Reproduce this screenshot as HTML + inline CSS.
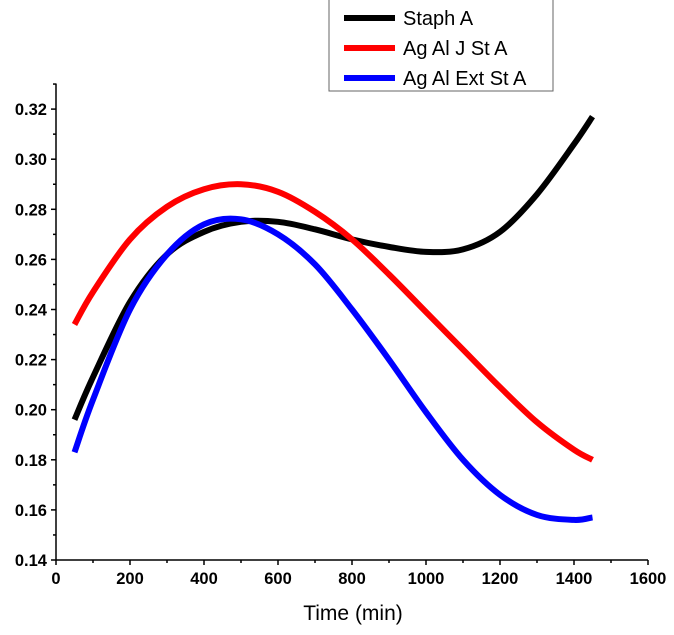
<!DOCTYPE html>
<html><head><meta charset="utf-8"><style>
html,body{margin:0;padding:0;background:#fff;}
svg{display:block;font-family:"Liberation Sans",Arial,sans-serif;}
</style></head><body>
<svg id="chart" width="674" height="635" viewBox="0 0 674 635"></svg>
<script>
const xs = [50,100,200,300,400,500,600,700,800,900,1000,1100,1200,1300,1400,1450];
const staphA = [0.196,0.213,0.243,0.262,0.271,0.275,0.275,0.272,0.268,0.265,0.263,0.264,0.271,0.286,0.306,0.317];
const agAlJ = [0.234,0.247,0.268,0.281,0.288,0.290,0.287,0.279,0.268,0.254,0.239,0.224,0.209,0.195,0.184,0.180];
const agAlExt = [0.183,0.204,0.240,0.262,0.274,0.276,0.270,0.258,0.240,0.220,0.199,0.180,0.166,0.158,0.156,0.157];
const xTicks = [0,200,400,600,800,1000,1200,1400,1600];
const yTicks = [0.14,0.16,0.18,0.20,0.22,0.24,0.26,0.28,0.30,0.32];
const seriesNames = ["Staph A","Ag Al J St A","Ag Al Ext St A"];

const NS="http://www.w3.org/2000/svg";
const svg=document.getElementById('chart');
const X0=56,X1=648,Y0=560,YT=83.5;
const xS=v=>X0+(v-0)/1600*(X1-X0);
const yS=v=>Y0-(v-0.14)/0.02*50.1;
function mk(t,a,p){const e=document.createElementNS(NS,t);for(const k in a)e.setAttribute(k,a[k]);(p||svg).appendChild(e);return e;}

const ax=mk('g',{});


mk('line',{x1:X0,y1:YT,x2:X0,y2:Y0,stroke:'#000','stroke-width':1.5},ax);
mk('line',{x1:X0,y1:Y0,x2:X1,y2:Y0,stroke:'#000','stroke-width':1.5},ax);
for(let v=0;v<=1600;v+=100){const x=xS(v);mk('line',{x1:x,y1:Y0,x2:x,y2:Y0+(v%200===0?5:3),stroke:'#000','stroke-width':1.5},ax);}
for(let i=0;i<=19;i++){const v=0.14+i*0.01;const y=yS(v);mk('line',{x1:X0,y1:y,x2:X0-(i%2===0?5:3),y2:y,stroke:'#000','stroke-width':1.5},ax);}
xTicks.forEach(v=>{const t=mk('text',{x:xS(v),y:Y0+24,'text-anchor':'middle','font-size':16.5,'font-weight':'bold'},ax);t.textContent=v;

});
yTicks.forEach(v=>{const t=mk('text',{x:X0-9,y:yS(v)+6,'text-anchor':'end','font-size':16.5,'font-weight':'bold'},ax);t.textContent=v.toFixed(2);

});
const xt=mk('text',{x:353,y:620,'text-anchor':'middle','font-size':21});xt.textContent='Time (min)';



function pathD(vals){
  const p=xs.map((x,i)=>[xS(x),yS(vals[i])]);
  let d=`M${p[0][0]},${p[0][1]}`;
  for(let i=0;i<p.length-1;i++){
    const a=p[i-1]||p[i],b=p[i],c=p[i+1],e=p[i+2]||c;
    d+=` C${b[0]+(c[0]-a[0])/6},${b[1]+(c[1]-a[1])/6} ${c[0]-(e[0]-b[0])/6},${c[1]-(e[1]-b[1])/6} ${c[0]},${c[1]}`;
  }
  return d;
}
const colors=['#000','#f00','#00f'];
[staphA,agAlJ,agAlExt].forEach((s,i)=>{
  const el=mk('path',{d:pathD(s),fill:'none',stroke:colors[i],'stroke-width':6});
  
  
});

const lg=mk('g',{});


mk('rect',{x:329,y:-2,width:224,height:93,fill:'#fff',stroke:'#666','stroke-width':1},lg);
seriesNames.forEach((n,i)=>{
  const y=18+i*30;
  const l=mk('line',{x1:344,y1:y,x2:395,y2:y,stroke:colors[i],'stroke-width':6},lg);
  
  
  const t=mk('text',{x:403,y:y+7,'font-size':20},lg);t.textContent=n;
  
  
});
</script>
</body></html>
